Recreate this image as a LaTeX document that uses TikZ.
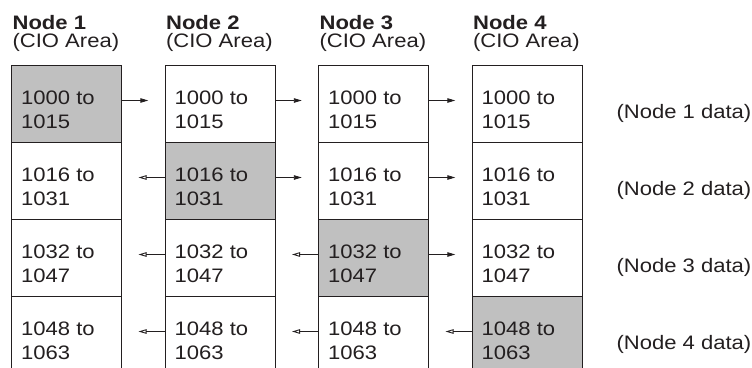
\documentclass[tikz,border=0pt]{standalone}
\usepackage{fontspec}
\setmainfont{Liberation Sans}[FakeStretch=1.13]
\usetikzlibrary{arrows.meta,calc}
\definecolor{ink}{HTML}{231F20}
\definecolor{cellgray}{HTML}{C0C0C0}
\begin{document}
\begin{tikzpicture}[x=1pt,y=-1pt,
  cell/.style={draw=ink, line width=1.3pt, rectangle, minimum width=110pt, minimum height=77pt, inner sep=0pt, anchor=north west},
  txt/.style={font=\fontsize{19.5}{24}\selectfont, text=ink, inner sep=0pt, anchor=base west},
  hdr/.style={font=\fontsize{19.5}{24}\selectfont\bfseries, text=ink, inner sep=0pt, anchor=base west},
  rarr/.style={draw=ink, line width=0.9pt, -{Triangle[length=8pt,width=4.5pt]}},
  larr/.style={draw=ink, line width=0.9pt, -{Triangle[open,length=8pt,width=4.5pt]}}]
\useasboundingbox (0,0) rectangle (752,367);
\clip (0,0) rectangle (752,367);
% headers
\foreach \cl in {1,...,4}{
  \node[hdr] (h\cl) at ({11+153.5*(\cl-1)+1.4},29) {Node \cl};
  \node[txt] (a\cl) at ({11+153.5*(\cl-1)+1.4},47) {(CIO Area)};
}
% cells
\foreach \rw in {1,...,4}{
  \pgfmathtruncatemacro\lo{1000+16*(\rw-1)}
  \pgfmathtruncatemacro\hi{\lo+15}
  \foreach \cl in {1,...,4}{
    \ifnum\rw=\cl
      \node[cell, fill=cellgray] (c-\rw-\cl) at ({11+153.5*(\cl-1)},{64.5+77*(\rw-1)}) {};
    \else
      \node[cell, fill=white] (c-\rw-\cl) at ({11+153.5*(\cl-1)},{64.5+77*(\rw-1)}) {};
    \fi
    \node[txt] (t-\rw-\cl) at ($(c-\rw-\cl.north west)+(10,40)$) {\lo\ to};
    \node[txt] (u-\rw-\cl) at ($(c-\rw-\cl.north west)+(10,64)$) {\hi};
  }
  \node[txt] (d\rw) at ({616.4},{64.5+77*(\rw-1)+53.5}) {(Node \rw\ data)};
}
% arrows
\foreach \rw in {1,...,4}{
  \foreach \cl in {1,2,3}{
    \pgfmathtruncatemacro\nx{\cl+1}
    \ifnum\rw>\cl
      \draw[larr] ($(c-\rw-\nx.north west)+(0,36)$) -- +(-26,0);
    \else
      \draw[rarr] ($(c-\rw-\cl.north east)+(0,36)$) -- +(26,0);
    \fi
  }
}
\end{tikzpicture}
\end{document}
